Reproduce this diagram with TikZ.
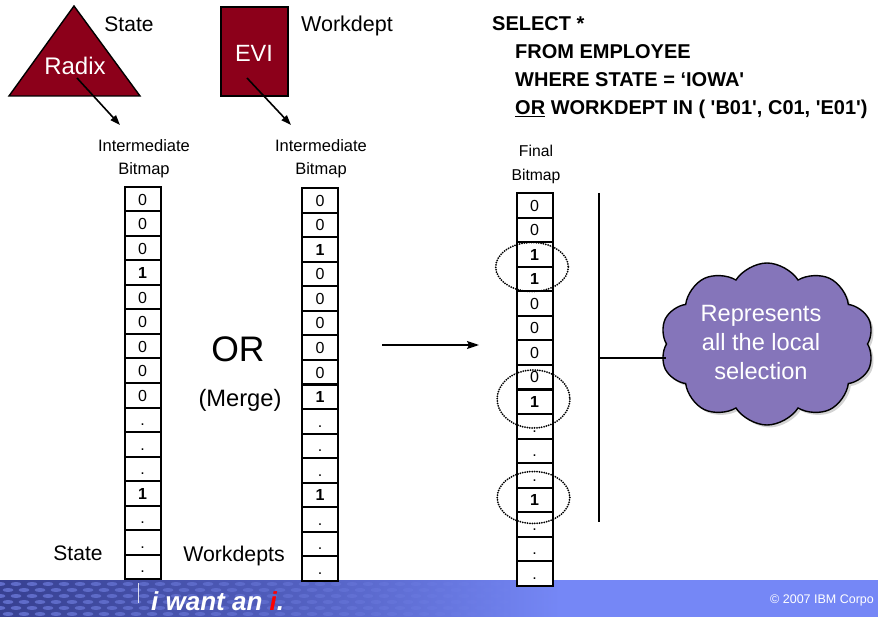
\documentclass[tikz,border=0pt]{standalone}
\usepackage{fontspec}
\setmainfont{Liberation Sans}
\usetikzlibrary{arrows.meta,shapes.symbols,shadows}
\definecolor{idxred}{RGB}{140,0,26}
\definecolor{cloudfill}{RGB}{133,117,186}
\definecolor{bandark}{RGB}{55,64,145}
\definecolor{banmid}{RGB}{80,93,188}
\definecolor{banlight}{RGB}{117,135,246}
\definecolor{bandot}{RGB}{125,140,240}
\newcommand{\fs}[1]{\fontsize{#1}{#1}\selectfont}

\begin{document}
\begin{tikzpicture}[x=1pt,y=-1pt,
  cellbox/.style={draw, fill=white, line width=2pt, minimum width=36pt,
    minimum height=24.5pt, inner sep=0pt, text height=11.6pt, text depth=0pt,
    font=\fs{16}},
  ptr/.style={-{Triangle[length=10pt,width=7pt]}, line width=1.6pt},
  lbl/.style={inner sep=0pt, anchor=base},
  sql/.style={inner sep=0pt, anchor=base west, font=\fs{20}\bfseries},
  ring/.style={line width=2pt, dash pattern=on 0pt off 2.4pt, line cap=round},
]
\useasboundingbox (0,0) rectangle (878,617);

% ---- footer banner ----
\shade[left color=bandark, right color=banlight, middle color=banmid]
  (0,580) rectangle (560,617);
\fill[banlight] (560,580) rectangle (878,617);
\foreach \r in {0,...,5}{
  \foreach \k in {0,...,34}{
    \pgfmathsetmacro{\xx}{\k*16+mod(\r,2)*8}
    \pgfmathsetmacro{\op}{max(0,0.6*(1-\xx/580))}
    \fill[bandot, fill opacity=\op] (\xx,{584+\r*6}) ellipse (5.5 and 2);
  }
}
\coordinate (sepTop) at (138,583);
\coordinate (sepBot) at (138,603);
\draw[white, line width=0.8pt, opacity=0.8] (sepTop) -- (sepBot);
\node[lbl, anchor=base west, text=white, font=\fs{26}\bfseries\itshape]
  (slogan) at (151,610) {i want an \textcolor{red}{i}.};
\node[lbl, anchor=base west, text=white, font=\fs{12.5}]
  (copy) at (770,603) {© 2007 IBM Corpo};

% ---- index objects ----
\coordinate (triL) at (9,96);
\coordinate (triT) at (74,6);
\coordinate (triR) at (140,96);
\draw[fill=idxred, line width=1.4pt, line join=miter] (triL) -- (triT) -- (triR) -- cycle;
\node[lbl, text=white, font=\fs{24}] (radix) at (75,75) {Radix};
\node[lbl, font=\fs{21}] (stateTop) at (129,31.5) {State};
\coordinate (radixFrom) at (77,78);
\coordinate (radixTo) at (120,125);
\draw[ptr] (radixFrom) -- (radixTo);

\node[draw, fill=idxred, line width=1.4pt, minimum width=67pt, minimum height=89pt,
  inner sep=0pt] (evi) at (254.5,51.5) {};
\node[lbl, text=white, font=\fs{23.5}] (eviText) at (254,62) {EVI};
\node[lbl, font=\fs{21.5}] (workTop) at (347,31.5) {Workdept};
\coordinate (eviFrom) at (247,78);
\coordinate (eviTo) at (291,125);
\draw[ptr] (eviFrom) -- (eviTo);

% ---- query ----
\node[sql] (q1) at (492,31) {SELECT *};
\node[sql] (q2) at (515,59) {FROM EMPLOYEE};
\node[sql] (q3) at (515,87) {WHERE STATE = ‘IOWA\textquotesingle};
\node[sql] (q4) at (515,115) {\underline{OR} WORKDEPT IN ( \textquotesingle B01\textquotesingle, C01, \textquotesingle E01\textquotesingle)};

% ---- bitmap headings ----
\node[inner sep=0pt, align=center, font=\fs{16.5}, execute at begin node={\baselineskip=23pt}]
  (hdrA) at (144,159.2) {Intermediate\\Bitmap};
\node[inner sep=0pt, align=center, font=\fs{16.5}, execute at begin node={\baselineskip=23pt}]
  (hdrB) at (321,159.2) {Intermediate\\Bitmap};
\node[inner sep=0pt, align=center, font=\fs{15.7}, execute at begin node={\baselineskip=24.5pt}]
  (hdrC) at (536,164.6) {Final\\Bitmap};

% ---- bitmaps ----
\foreach \v [count=\i] in {0,0,0,\textbf{1},0,0,0,0,0,.,.,.,\textbf{1},.,.,.}
  \node[cellbox] (sa\i) at (142.5,{187+24.5*(\i-0.5)}) {\v};
\foreach \v [count=\i] in {0,0,\textbf{1},0,0,0,0,0,\textbf{1},.,.,.,\textbf{1},.,.,.}
  \node[cellbox] (wb\i) at (320,{188+24.56*(\i-0.5)}) {\v};
\foreach \v [count=\i] in {0,0,\textbf{1},\textbf{1},0,0,0,0,\textbf{1},.,.,.,\textbf{1},.,.,.}
  \node[cellbox] (fb\i) at (534.5,{193+24.56*(\i-0.5)}) {\v};

\node[lbl, font=\fs{21}] (stateBot) at (78,560.5) {State};
\node[lbl, font=\fs{21.3}] (workBot) at (234,561) {Workdepts};

% ---- merge ----
\node[lbl, font=\fs{35.5}] (orText) at (238,362) {OR};
\node[lbl, font=\fs{23.7}] (mergeText) at (240,406.5) {(Merge)};
\coordinate (mergeFrom) at (382,345);
\coordinate (mergeTo) at (479,345);
\draw[-{Stealth[length=12pt,width=8pt,inset=2pt]}, line width=1.6pt] (mergeFrom) -- (mergeTo);

% ---- selected rows ----
\draw[ring] (532,267) ellipse (36.3 and 24.5);
\draw[ring] (533.5,399) ellipse (36.3 and 29);
\draw[ring] (533.5,497.5) ellipse (36.3 and 26);

% ---- bracket and note ----
\coordinate (brTop) at (599,193);
\coordinate (brBot) at (599,522);
\coordinate (brMid) at (599,358);
\draw[line width=1.6pt] (brTop) -- (brBot);
\node[cloud, cloud puffs=10, cloud puff arc=115, aspect=1.35, draw, line width=1.4pt,
  fill=cloudfill, minimum width=214pt, minimum height=162pt, inner sep=0pt,
  drop shadow={shadow xshift=2.5pt, shadow yshift=-2.5pt, opacity=0.35}]
  (note) at (767,344) {};
\node[inner sep=0pt, align=center, text=white, font=\fs{23.6},
  execute at begin node={\baselineskip=29pt}]
  (noteText) at (761,342) {Represents\\all the local\\selection};
\draw[line width=1.6pt] (brMid) -- (brMid -| note.west);
\end{tikzpicture}
\end{document}
